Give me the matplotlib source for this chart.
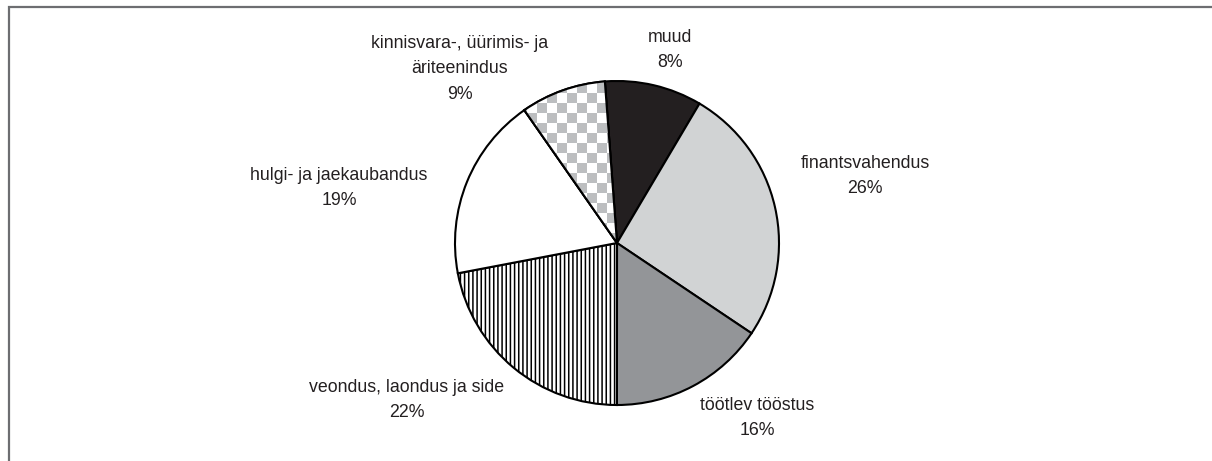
#!/usr/bin/env python3
# -*- coding: utf-8 -*-
"""
Pie chart of sector shares (Estonian labels), grey-scale print style.
"""
import numpy as np
import matplotlib
matplotlib.use('Agg')
import matplotlib.pyplot as plt

# Data (clockwise from the top)
sectors = ['muud', 'finantsvahendus', 'töötlev tööstus',
           'veondus, laondus ja side', 'hulgi- ja jaekaubandus',
           'kinnisvara-, üürimis- ja\näriteenindus']
shares = [9.7, 25.9, 15.6, 22.0, 18.3, 8.5]          # slice sizes
pct_labels = ['8%', '26%', '16%', '22%', '19%', '9%']  # percentages as printed

# Styles
colors = ['#231f20', '#d1d3d4', '#939598', 'white', 'white', 'white']
hatches = [None, None, None, '||||', None, None]
text_color = '#231f20'
# label centres in pixel coordinates (x, y from bottom)
label_pos = [(670, 411), (865, 285), (757, 43), (407, 61), (339, 273), (460, 392)]

plt.rcParams['font.family'] = ['Liberation Sans', 'DejaVu Sans']
plt.rcParams['hatch.linewidth'] = 1.1

fig = plt.figure(figsize=(12.12, 4.61), dpi=100, facecolor='white')
ax = fig.add_axes([0, 0, 1, 1])

# pie drawn in pixel units
wedges, _ = ax.pie(shares, colors=colors, startangle=94.3, counterclock=False,
                   center=(617, 218), radius=162, frame=True,
                   wedgeprops=dict(edgecolor='black', linewidth=1.5))
for w, h in zip(wedges, hatches):
    if h:
        w.set_hatch(h)

# checkerboard fill for the last slice
sq = 10
n = 40
checker = (np.add.outer(np.arange(n), np.arange(n)) % 2).astype(float)
cx0, cy0 = 617 - 200, 218
img = ax.imshow(checker, cmap=matplotlib.colors.ListedColormap(['white', '#bcbec0']),
                extent=(cx0, cx0 + n * sq, cy0, cy0 + n * sq), origin='lower',
                interpolation='nearest', zorder=wedges[-1].get_zorder() + 0.1)
img.set_clip_path(wedges[-1])
ax.set_aspect('equal')
ax.set_xlim(0, 1212)
ax.set_ylim(0, 461)
ax.axis('off')
# redraw the outline of the checkered slice on top
w = wedges[-1]
outline = matplotlib.patches.Wedge(w.center, w.r, w.theta1, w.theta2,
                                   facecolor='none', edgecolor='black', linewidth=1.5,
                                   zorder=img.get_zorder() + 0.1)
ax.add_patch(outline)

# labels
for name, pct, (x, y) in zip(sectors, pct_labels, label_pos):
    ax.text(x, y, name + '\n' + pct, ha='center', va='center', fontsize=12.8,
            color=text_color, linespacing=1.65)

# partial frame (left and top edges)
ax.plot([8.5, 8.5, 1212], [0, 453.5, 453.5], color='#6d6e71', linewidth=1.6,
        clip_on=False, solid_joinstyle='miter')

fig.savefig('out.png', dpi=100, facecolor='white')
